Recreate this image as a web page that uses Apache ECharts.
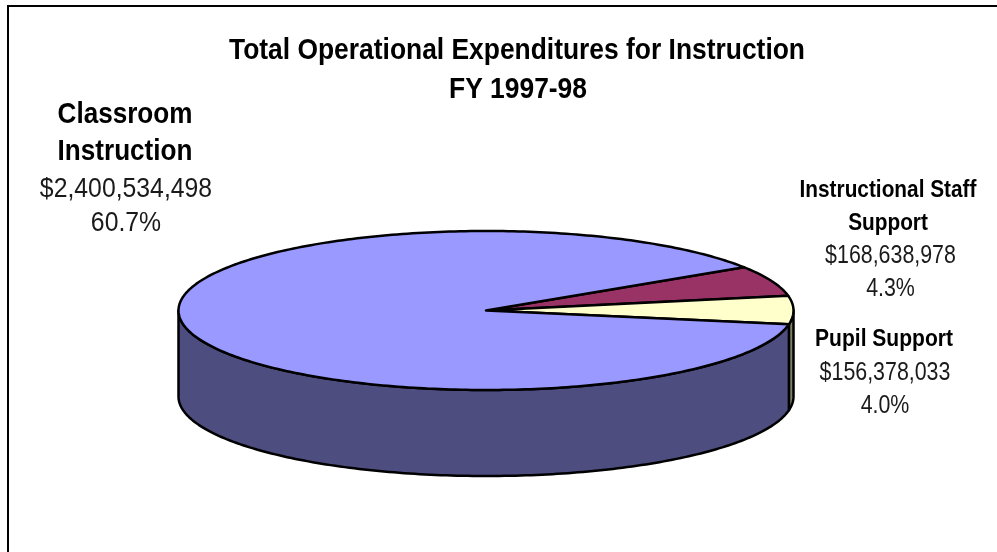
<!DOCTYPE html>
<html>
<head>
<meta charset="utf-8">
<style>html,body{margin:0;padding:0;background:#fff}#chart{width:997px;height:552px}</style>
<script src="https://cdn.jsdelivr.net/npm/echarts@6/dist/echarts.min.js"></script>
</head>
<body>
<div id="chart"></div>
<script>
var titleLines = ['Total Operational Expenditures for Instruction', 'FY 1997-98'];
// drawn clockwise from the upper right, in the order the slices appear
var names = ['Instructional Staff\nSupport', 'Pupil Support', 'Classroom\nInstruction'];
var amounts = [168638978, 156378033, 2400534498];
var percents = ['4.3%', '4.0%', '60.7%'];
var topColors = ['#993366', '#FFFFCC', '#9999FF'];
var wallColors = ['#4D1A33', '#808066', '#4D4D80'];

// no narrow face is installed, so the text gets squeezed with scaleX
var FONT = '"Liberation Sans", Arial, sans-serif';
var cx = 486, cy = 310.5, rx = 307.5, ry = 79.5, depth = 86;
var startDeg = -33;

var total = amounts.reduce(function (a, b) { return a + b; }, 0);

function money(v) {
    return '$' + String(v).replace(/\B(?=(\d{3})+$)/g, ',');
}

function rim(deg, dy) {
    var t = deg * Math.PI / 180;
    return [cx + rx * Math.cos(t), cy + dy + ry * Math.sin(t)];
}

function arc(from, to, dy) {
    var pts = [];
    var n = Math.max(2, Math.ceil(Math.abs(to - from)));
    for (var i = 0; i <= n; i++) {
        pts.push(rim(from + (to - from) * i / n, dy));
    }
    return pts;
}

function renderSlice(params, api) {
    var i = params.dataIndex;
    var before = 0;
    for (var k = 0; k < i; k++) before += amounts[k];
    var a = startDeg + before / total * 360;
    var b = a + api.value(0) / total * 360;
    var lineStyle = { stroke: '#000', lineWidth: 2.5, lineJoin: 'round' };
    var children = [];

    // only the front half of the wall can be seen
    var wallFrom = Math.max(a, 0), wallTo = Math.min(b, 180);
    if (wallTo > wallFrom) {
        children.push({
            type: 'polygon',
            shape: { points: arc(wallFrom, wallTo, 0).concat(arc(wallTo, wallFrom, depth)) },
            style: Object.assign({ fill: wallColors[i] }, lineStyle)
        });
    }
    children.push({
        type: 'polygon',
        shape: { points: [[cx, cy]].concat(arc(a, b, 0)) },
        style: Object.assign({ fill: topColors[i] }, lineStyle)
    });
    return { type: 'group', children: children };
}

function textLine(str, x, y, size, bold, squeeze) {
    return {
        type: 'text',
        x: x,
        y: y,
        scaleX: squeeze,
        style: {
            text: str,
            fill: bold ? '#000' : '#1a1a1a',
            font: (bold ? 'bold ' : '') + size + 'px ' + FONT,
            textAlign: 'center',
            textVerticalAlign: 'middle'
        }
    };
}

// label block: name lines, then amount and percent
function labelBlock(i, x, valueX, ys, nameSize, nameSqueeze, valueSize, valueSqueeze) {
    var lines = names[i].split('\n');
    var out = lines.map(function (s, k) { return textLine(s, x, ys[k], nameSize, true, nameSqueeze); });
    out.push(textLine(money(amounts[i]), valueX, ys[lines.length], valueSize, false, valueSqueeze));
    out.push(textLine(percents[i], valueX, ys[lines.length + 1], valueSize, false, valueSqueeze));
    return out;
}

var chart = echarts.init(document.getElementById('chart'), null, { renderer: 'canvas' });

var frame = {
    type: 'polyline',
    shape: { points: [[8, 552], [8, 6], [997, 6]] },
    style: { stroke: '#000', lineWidth: 2, fill: 'none' }
};

var option = {
    animation: false,
    backgroundColor: '#fff',
    graphic: [frame]
        .concat(titleLines.map(function (s, k) { return textLine(s, 517 + k, 51 + k * 39, 30, true, 0.88); }))
        .concat(labelBlock(2, 125, 126, [115, 152, 189, 223], 30, 0.87, 28, 0.885))
        .concat(labelBlock(0, 888, 890.5, [190, 223, 256, 289], 24, 0.867, 25, 0.855))
        .concat(labelBlock(1, 884, 885, [339, 373, 406], 24, 0.876, 25, 0.855)),
    series: [{
        type: 'custom',
        coordinateSystem: 'none',
        silent: true,
        renderItem: renderSlice,
        data: amounts.map(function (v) { return [v]; })
    }]
};

chart.setOption(option);
</script>
</body>
</html>
